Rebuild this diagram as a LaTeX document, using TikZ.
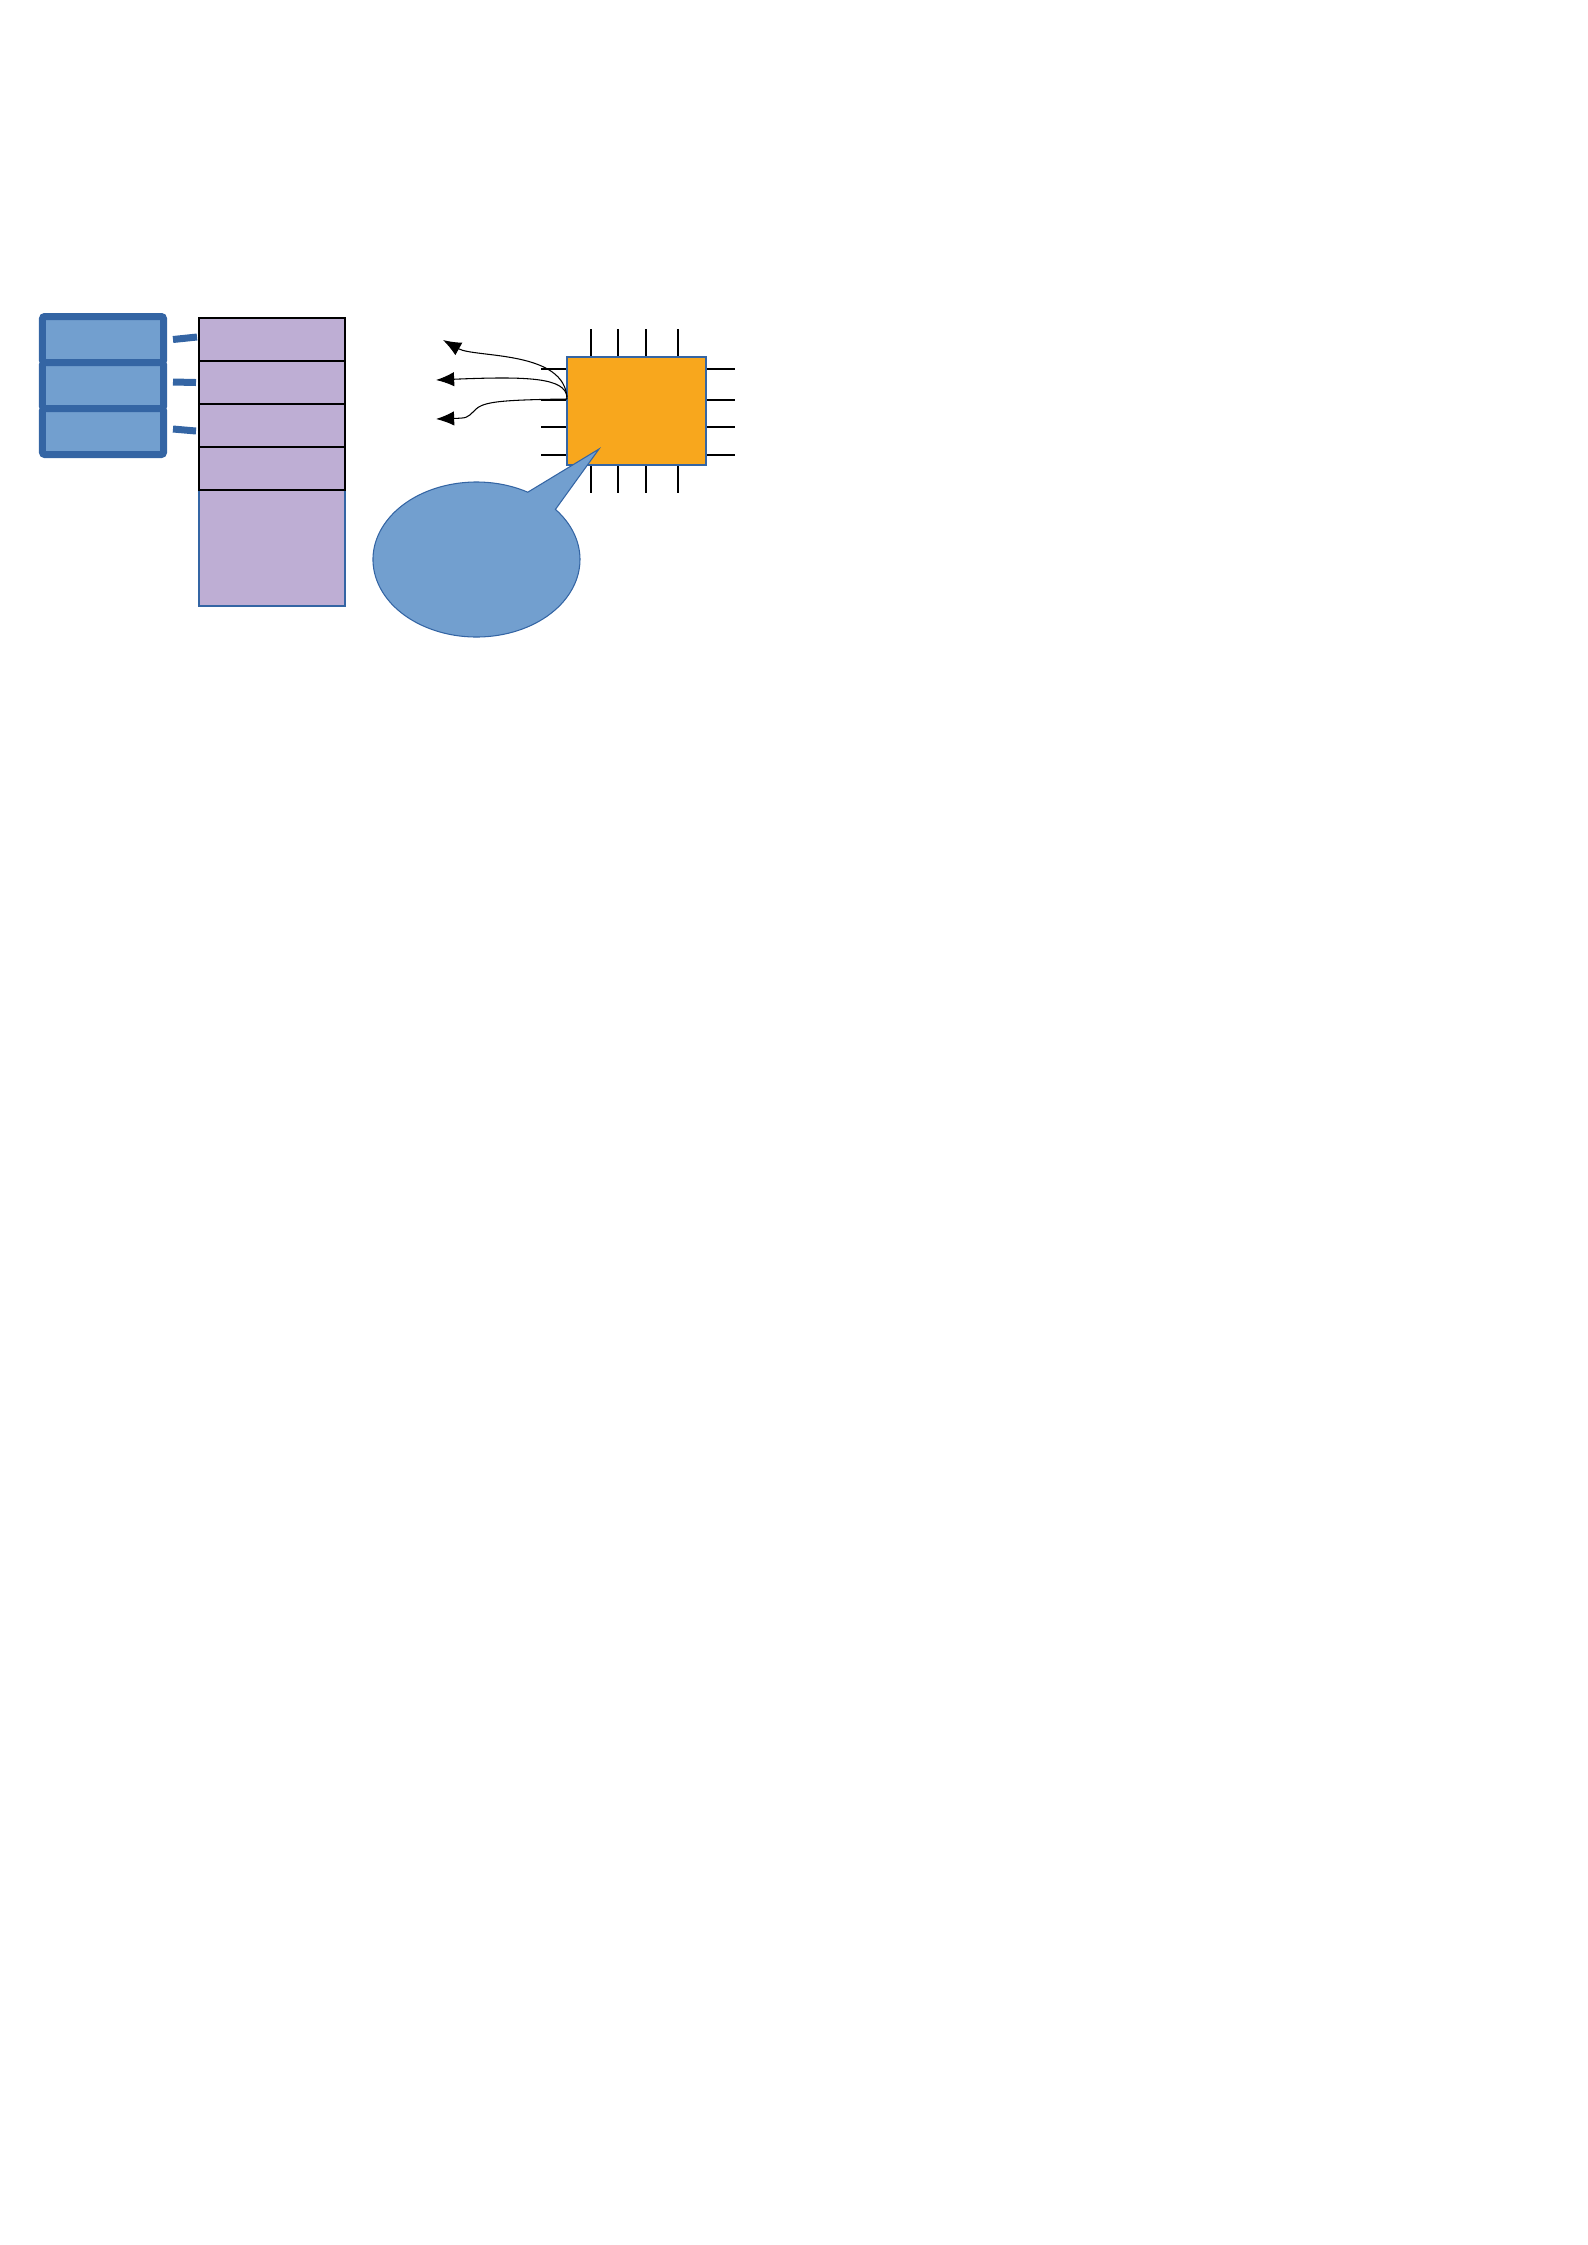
\documentclass[tikz,border=0pt]{standalone}
\usepackage{tikz}
\usetikzlibrary{positioning, arrows.meta, calc, shapes.callouts}

\definecolor{rowblue}{RGB}{114,159,207}
\definecolor{edgeblue}{RGB}{52,101,164}
\definecolor{memlilac}{RGB}{190,174,212}
\definecolor{chiporange}{RGB}{248,167,29}

\begin{document}
\begin{tikzpicture}[
    x=0.13228mm, y=-0.13228mm,
    node distance=0pt,
    slot/.style={draw=edgeblue, fill=rowblue, line width=0.926mm, rounded corners=0.3mm,
        outer sep=0pt, inner sep=0pt, minimum width=16.006mm, minimum height=6.085mm},
    cell/.style={draw=black, fill=memlilac, line width=0.75pt, outer sep=0pt, inner sep=0pt,
        minimum width=19.313mm, minimum height=5.688mm},
    bar/.style={draw=edgeblue, line width=0.926mm},
    pin/.style={draw=black, line width=0.4pt},
    arrow/.style={-{Latex[length=2.4mm, width=1.9mm]}, line width=0.4pt}
]
    \useasboundingbox (0,0) rectangle (1588,2245);

    % Left stack
    \node[slot] (slotA) at (103,339.5) {};
    \node[slot, below=of slotA] (slotB) {};
    \node[slot, below=of slotB] (slotC) {};

    % Memory column
    \node[cell, draw=edgeblue, line width=0.4pt, minimum height=15.344mm, anchor=north] (cellRest) at (272,490) {};
    \node[cell] (cellA) at (272,339.5) {};
    \node[cell, below=of cellA] (cellB) {};
    \node[cell, below=of cellB] (cellC) {};
    \node[cell, below=of cellC] (cellD) {};

    % Links
    \draw[bar] ($(slotA.east)+(9.5,0)$) -- ($(cellA.west)+(-2,-2.5)$);
    \draw[bar] ($(slotB.east)+(9.5,-3.5)$) -- ($(cellB.west)+(-3,0)$);
    \draw[bar] ($(slotC.east)+(9.5,-2.5)$) -- ($(cellC.west)+(-3,5.5)$);

    % Chip pins
    \foreach \x in {591,618,646,678} {
        \draw[pin] (\x,329) -- (\x,357);
        \draw[pin] (\x,465) -- (\x,493);
    }
    \foreach \y in {369,400,427,455} {
        \draw[pin] (541,\y) -- (567,\y);
        \draw[pin] (706,\y) -- (735,\y);
    }

    % Chip
    \node[draw=edgeblue, fill=chiporange, line width=0.4pt, outer sep=0pt, inner sep=0pt,
        minimum width=18.387mm, minimum height=14.286mm] (chip) at (636.5,411) {};

    % Outputs
    \coordinate (port) at ($(chip.west)+(0,-12)$);
    \coordinate (outA) at (443,340);
    \coordinate (outB) at (436,380);
    \coordinate (outC) at (436,419);
    \draw[arrow] (port) .. controls (566,350) and (475,358) .. (outA);
    \draw[arrow] ($(port)+(0,-2)$) .. controls (565,378) and (530,376) .. (outB);
    \draw[arrow] (port) .. controls (495,400) and (482,402) .. (474,411) .. controls (467,418) .. (outC);

    % Callout
    \node[ellipse callout, draw=edgeblue, fill=rowblue, line width=0.4pt, inner sep=0pt,
        minimum width=27.382mm, minimum height=20.503mm, callout pointer arc=20,
        callout absolute pointer={(599,449)}] (talk) at (476.5,559.5) {};
\end{tikzpicture}
\end{document}
